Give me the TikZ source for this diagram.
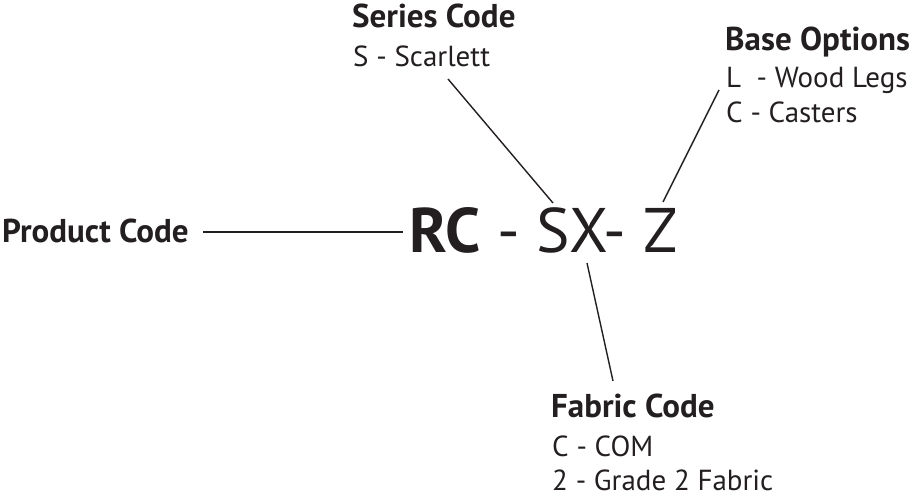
\documentclass[tikz,border=0pt]{standalone}
\usepackage{fontspec}
\setmainfont{PT Sans}
\definecolor{ink}{HTML}{231F20}
\begin{document}
\begin{tikzpicture}[x=1pt,y=-1pt,
  lbl/.style={anchor=base west,inner sep=0pt,text=ink,font=\fontsize{29}{34}\selectfont},
  ttl/.style={lbl,font=\fontsize{33}{38}\selectfont\bfseries},
  big/.style={anchor=base west,inner sep=0pt,text=ink,font=\fontsize{63}{70}\selectfont},
  conn/.style={draw=ink,line width=1.4pt}]
\useasboundingbox (0,0) rectangle (916,497);
% texts
\node[ttl] (prod) at (2,243) {Product Code};
\node[big] (code) at (409,253) {\textbf{RC} - SX- Z};
\node[ttl] (sert) at (352,28) {Series Code};
\node[lbl] (seri) at (353,67) {S - Scarlett};
\node[ttl] (bast) at (725,51) {Base Options};
\node[lbl] (basi1) at (726,88) {L \ - Wood Legs};
\node[lbl] (basi2) at (726,123) {C - Casters};
\node[ttl] (fabt) at (551,417) {Fabric Code};
\node[lbl] (fabi1) at (552,456) {C - COM};
\node[lbl] (fabi2) at (552,490) {2 - Grade 2 Fabric};
% connector ends
\coordinate (pa) at (203,232);
\coordinate (pb) at (403,232);
\coordinate (sa) at (448,79);
\coordinate (sb) at (553,203);
\coordinate (ba) at (719,90);
\coordinate (bb) at (663,202);
\coordinate (fa) at (587,263);
\coordinate (fb) at (613,381);
\draw[conn] (pa) -- (pb);
\draw[conn] (sa) -- (sb);
\draw[conn] (ba) -- (bb);
\draw[conn] (fa) -- (fb);
\end{tikzpicture}
\end{document}
